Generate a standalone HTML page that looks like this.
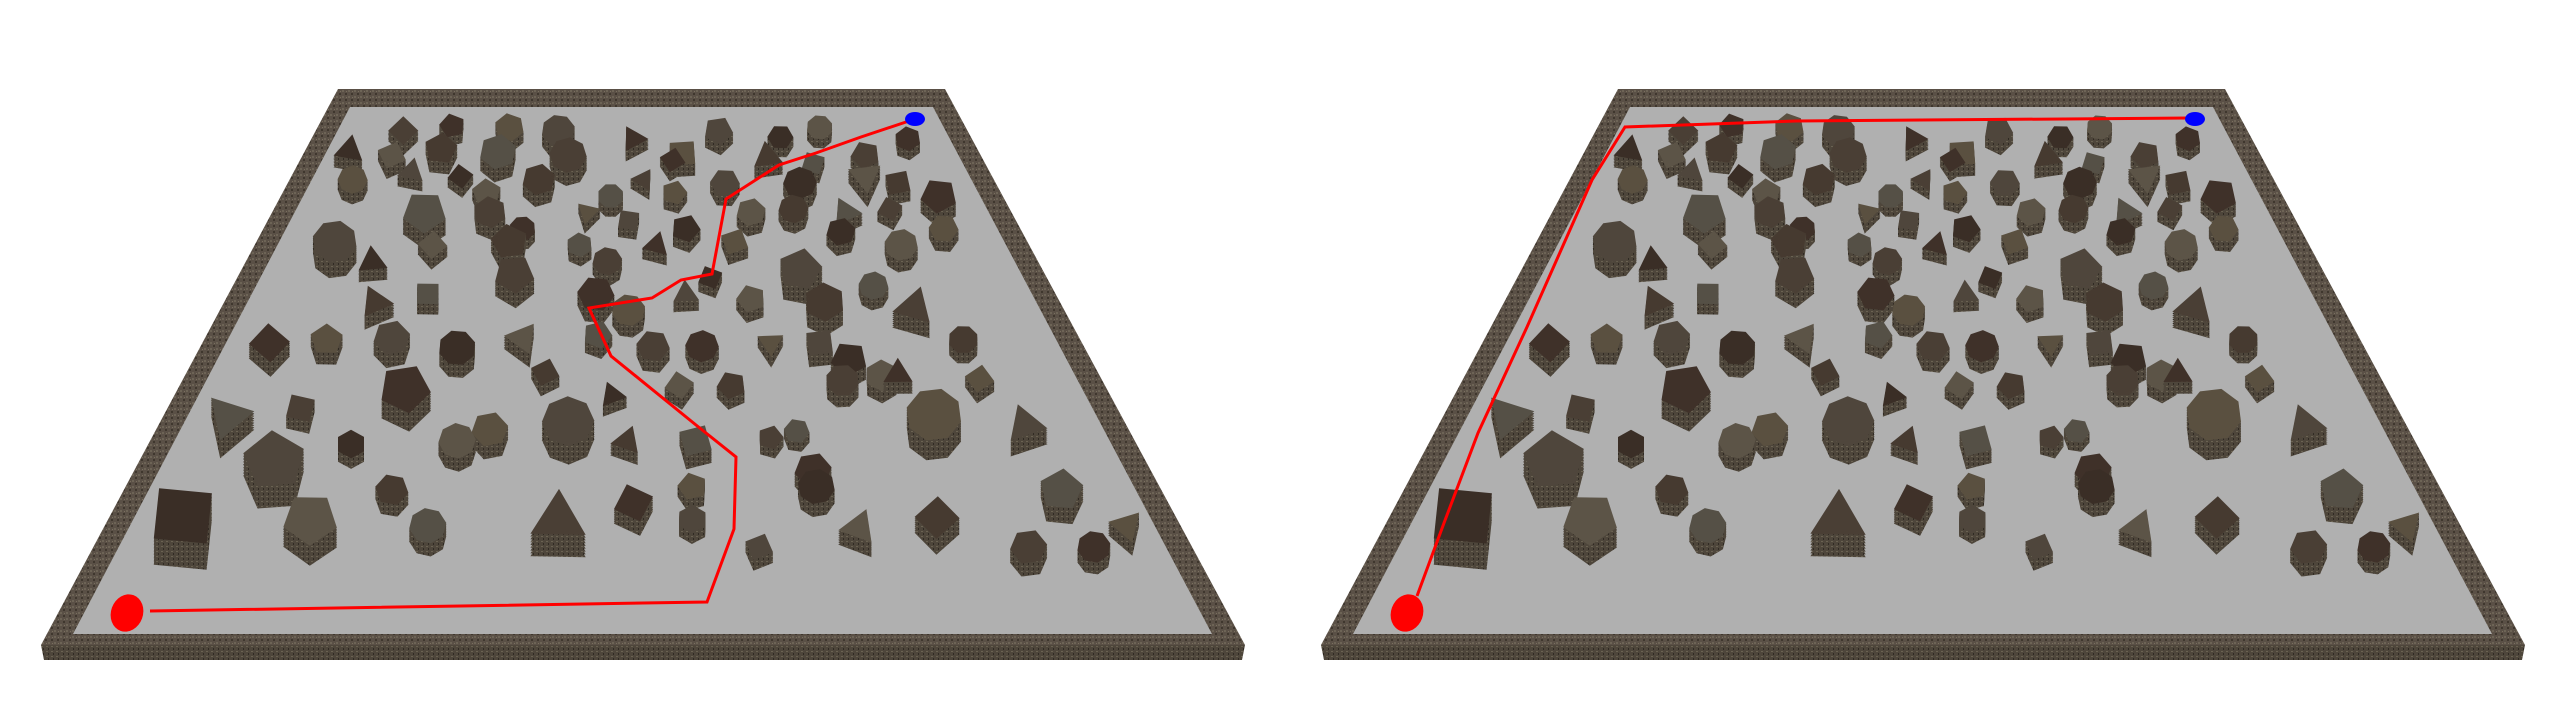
<!DOCTYPE html>
<html><head><meta charset="utf-8"><style>
html,body{margin:0;padding:0;background:#fff;width:2560px;height:720px;overflow:hidden}
svg{display:block}
</style></head><body>
<svg id="scene" width="2560" height="720" viewBox="0 0 2560 720" xmlns="http://www.w3.org/2000/svg">
<defs>
<pattern id="grit" width="6" height="6" patternUnits="userSpaceOnUse">
<rect width="6" height="6" fill="#5a5046"/>
<rect x="0" y="0" width="2" height="2" fill="#6d6456"/>
<rect x="3" y="3" width="2" height="2" fill="#3f372e"/>
<rect x="4" y="1" width="1" height="1" fill="#7a705f"/>
</pattern>
<pattern id="grit2" width="5" height="5" patternUnits="userSpaceOnUse">
<rect width="5" height="5" fill="#4e463b"/>
<rect x="1" y="1" width="2" height="1" fill="#6a6252"/>
<rect x="3" y="3" width="1" height="2" fill="#302a23"/>
</pattern>
</defs>
</svg>
<script>
const obsX=[247,277,312,342,214,240,270,305,348,388,418,440,478,502,470,498,530,556,216,252,282,298,330,374,394,412,413,444,490,530,550,260,300,320,360,385,420,460,486,518,545,575,578,205,228,265,312,355,372,402,450,490,515,552,230,262,315,365,385,420,435,460,505,535,560,165,200,240,280,320,334,366,400,430,472,502,520,540,590,140,184,248,300,348,375,416,448,488,516,550,600,168,215,280,384,426,472,498,572,628,112,190,240,262,342,388,424,424,500,526,574,650,630,670,690,465];
const obsY=[80,77,78,80,92,95,91,93,95,85,94,80,84,78,96,100,95,85,110,105,108,118,110,120,110,98,118,112,112,108,112,130,130,140,130,135,140,130,128,130,128,120,140,148,160,150,148,150,160,150,148,165,142,150,185,180,168,180,190,180,170,183,185,175,188,210,208,207,213,207,228,205,212,212,210,210,220,230,208,255,250,238,263,258,242,236,236,264,233,229,232,282,272,270,270,270,268,288,254,260,316,318,300,322,318,308,298,318,298,323,317,300,335,335,322,335];
const obsR=[8,7,8,9,9,8,9,10,10,8,9,8,7,7,9,7,8,7,8,8,7,8,9,7,7,7,7,8,9,10,8,12,9,7,7,7,8,8,8,9,7,10,8,12,9,8,10,7,8,8,8,12,8,9,10,8,11,10,9,8,7,8,11,8,12,11,9,10,10,10,8,8,9,9,8,9,10,9,8,14,9,14,10,14,8,8,8,7,9,9,8,17,8,10,9,10,7,10,15,12,20,15,9,10,17,11,8,8,10,11,12,12,10,9,10,8];
const obsColors=['#4a3f35','#3f3129','#5a5040','#4f463c','#3a2e26','#5c5447','#463a30','#555046'];
const leftPathX=[150,707,734,736,696,611,589,652,681,712,726,779,816,861,915];
const leftPathY=[611,602,529,457,425,356,308,298,280,274,199,165,153,137,119];
const rightPathX=[137,164,198,247,312,345,516,908];
const rightPathY=[596,523,433,327,180,127,121,118];

const NS='http://www.w3.org/2000/svg';
const svg=document.getElementById('scene');
const S=2560/1568;
function el(tag,attrs,parent){const e=document.createElementNS(NS,tag);for(const k in attrs)e.setAttribute(k,attrs[k]);(parent||svg).appendChild(e);return e;}
function poly(cx,cy,rx,ry,n,rot){let p=[];for(let i=0;i<n;i++){const a=rot+i*2*Math.PI/n;p.push((cx+rx*Math.cos(a)).toFixed(1)+','+(cy+ry*Math.sin(a)).toFixed(1));}return p.join(' ');}

function panel(off,px,py,name){
  const g=el('g',{transform:'translate('+off+',0)'});
  
  
  const border=el('polygon',{points:'338,89 945,89 1245,645 41,645',fill:'url(#grit)'},g);
  
  
  const front=el('polygon',{points:'41,645 1245,645 1242,660 44,660',fill:'url(#grit2)'},g);
  
  
  const floor=el('polygon',{points:'350,107 933,107 1212,634 73,634',fill:'#b0b0b0'},g);
  
  
  for(let i=0;i<obsX.length;i++){
    const cx=obsX[i]*S, cy=obsY[i]*S, r=obsR[i]*S*1.15;
    const n=[4,5,6,8,3][i%5], rot=(i*0.7)%Math.PI;
    const og=el('g',{},g);
    
    
    const h=r*0.7;
    for(let k=8;k>=1;k--){
      el('polygon',{points:poly(cx,cy+h*k/8,r,r*0.95,n,rot),fill:'url(#grit2)'},og);
    }
    el('polygon',{points:poly(cx,cy,r,r*0.95,n,rot),fill:obsColors[i%obsColors.length]},og);
  }
  const pts=px.map((x,i)=>x+','+py[i]).join(' ');
  const path=el('polyline',{points:pts,fill:'none',stroke:'#ff0000','stroke-width':3},g);
  
  
  const st=el('ellipse',{cx:127,cy:613,rx:16,ry:19,fill:'#ff0000',transform:'rotate(20 127 613)'},g);
  
  
  const gl=el('ellipse',{cx:915,cy:119,rx:10,ry:7,fill:'#0000ff'},g);
  
  
}
panel(0,leftPathX,leftPathY,'left-scene');
panel(1280,rightPathX,rightPathY,'right-scene');
</script>
</body></html>
